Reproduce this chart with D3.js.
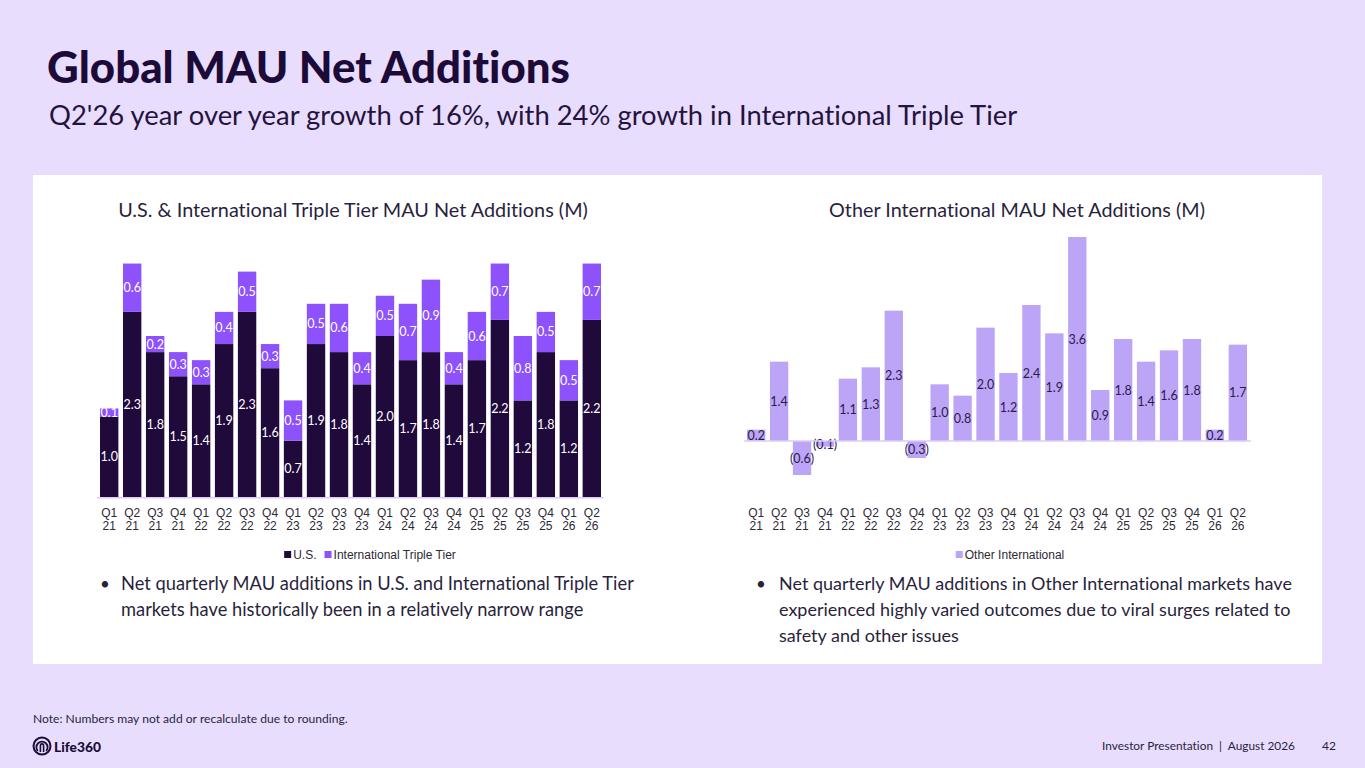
<!DOCTYPE html>
<html>
<head>
<meta charset="utf-8">
<script src="https://cdn.jsdelivr.net/npm/d3@7"></script>
<style>
  html, body { margin: 0; padding: 0; background: #e8ddfd; }
  svg { display: block; }
  text { font-family: Lato, "Noto Sans", sans-serif; font-variant-ligatures: none; font-feature-settings: "liga" 0, "clig" 0, "dlig" 0; letter-spacing: 0.01px; }
  .tick text, .legend text { font-family: "Liberation Sans", Arial, sans-serif; }
</style>
</head>
<body>
<svg id="slide" width="1365" height="768"></svg>
<script>
const quarters = ["Q1 21", "Q2 21", "Q3 21", "Q4 21", "Q1 22", "Q2 22", "Q3 22", "Q4 22", "Q1 23", "Q2 23", "Q3 23",
  "Q4 23", "Q1 24", "Q2 24", "Q3 24", "Q4 24", "Q1 25", "Q2 25", "Q3 25", "Q4 25", "Q1 26", "Q2 26"];
const usAdds = [1.0, 2.3, 1.8, 1.5, 1.4, 1.9, 2.3, 1.6, 0.7, 1.9, 1.8, 1.4, 2.0, 1.7, 1.8, 1.4, 1.7, 2.2, 1.2, 1.8, 1.2, 2.2];
const tripleTierAdds = [0.1, 0.6, 0.2, 0.3, 0.3, 0.4, 0.5, 0.3, 0.5, 0.5, 0.6, 0.4, 0.5, 0.7, 0.9, 0.4, 0.6, 0.7, 0.8, 0.5, 0.5, 0.7];
const otherIntlAdds = [0.2, 1.4, -0.6, -0.1, 1.1, 1.3, 2.3, -0.3, 1.0, 0.8, 2.0, 1.2, 2.4, 1.9, 3.6, 0.9, 1.8, 1.4, 1.6, 1.8, 0.2, 1.7];

const leftBullets = [
  "Net quarterly MAU additions in U.S. and International Triple Tier",
  "markets have historically been in a relatively narrow range"
];
const rightBullets = [
  "Net quarterly MAU additions in Other International markets have",
  "experienced highly varied outcomes due to viral surges related to",
  "safety and other issues"
];

const COLORS = {
  bg: "#e8ddfd",
  ink: "#1c0b38",
  us: "#200a3c",
  tripleTier: "#8d52fb",
  other: "#bca5f7",
  baseline: "#dccdf8",
  tick: "#2e2a36"
};

const svg = d3.select("#slide");
const fmt = d3.format(".1f");
const fmtSigned = (v) => v < 0 ? `(${fmt(-v)})` : fmt(v);

// shrink or grow a text element so it spans the target width
function fitText(sel, targetWidth) {
  const node = sel.node();
  const size = parseFloat(sel.attr("font-size"));
  const len = node.getComputedTextLength();
  if (len > 0) sel.attr("font-size", (size * targetWidth / len).toFixed(2));
  return parseFloat(sel.attr("font-size"));
}

svg.append("rect").attr("width", 1365).attr("height", 768).attr("fill", COLORS.bg);

fitText(svg.append("text").attr("x", 47).attr("y", 83).attr("font-size", 38).attr("font-weight", 900)
  .attr("fill", COLORS.ink).text("Global MAU Net Additions"), 523);
fitText(svg.append("text").attr("x", 49).attr("y", 125).attr("font-size", 24)
  .attr("fill", "#25133f").text("Q2'26 year over year growth of 16%, with 24% growth in International Triple Tier"), 969);

svg.append("rect").attr("x", 33).attr("y", 175).attr("width", 1289).attr("height", 489).attr("fill", "#ffffff");

fitText(svg.append("text").attr("x", 353).attr("y", 217).attr("text-anchor", "middle").attr("font-size", 17)
  .attr("fill", "#2a1f3d").text("U.S. & International Triple Tier MAU Net Additions (M)"), 470);
fitText(svg.append("text").attr("x", 1017).attr("y", 217).attr("text-anchor", "middle").attr("font-size", 17)
  .attr("fill", "#2a1f3d").text("Other International MAU Net Additions (M)"), 376);

function drawAxis(x, yPos) {
  const g = svg.append("g").attr("transform", `translate(0,${yPos})`)
    .call(d3.axisBottom(x).tickSize(0).tickPadding(0));
  g.select(".domain").remove();
  g.selectAll(".tick text").each(function (d) {
    const parts = d.split(" ");
    const t = d3.select(this).text(null).attr("y", 0).attr("dy", null)
      .attr("font-size", 12).attr("fill", COLORS.tick);
    t.append("tspan").attr("x", 0).attr("y", 16.5).text(parts[0]);
    t.append("tspan").attr("x", 0).attr("y", 30).text(parts[1]);
  });
}

function drawLegend(items, cx) {
  const g = svg.append("g").attr("class", "legend");
  let widths = items.map((it) => {
    const t = g.append("text").attr("font-size", 12).text(it.label);
    const w = t.node().getComputedTextLength();
    t.remove();
    return w + 9;
  });
  const gap = 8;
  const total = d3.sum(widths) + gap * (items.length - 1);
  let x0 = cx - total / 2;
  items.forEach((it, i) => {
    g.append("rect").attr("x", x0).attr("y", 551).attr("width", 7).attr("height", 7).attr("fill", it.color);
    g.append("text").attr("x", x0 + 9).attr("y", 559).attr("font-size", 12).attr("fill", COLORS.tick).text(it.label);
    x0 += widths[i] + gap;
  });
}

// ---- left chart: stacked U.S. + International Triple Tier
const xLeft = d3.scaleBand().domain(quarters).range([100, 601]).paddingInner(0.2).paddingOuter(0);
const yLeft = d3.scaleLinear().domain([0, 3]).range([497, 255.5]);

const stacked = quarters.map((q, i) => ({ q, us: usAdds[i], tt: tripleTierAdds[i] }));
const leftG = svg.append("g");
leftG.selectAll("rect.us").data(stacked).join("rect").attr("class", "us")
  .attr("x", (d) => xLeft(d.q)).attr("width", xLeft.bandwidth())
  .attr("y", (d) => yLeft(d.us)).attr("height", (d) => yLeft(0) - yLeft(d.us))
  .attr("fill", COLORS.us);
leftG.selectAll("rect.tt").data(stacked).join("rect").attr("class", "tt")
  .attr("x", (d) => xLeft(d.q)).attr("width", xLeft.bandwidth())
  .attr("y", (d) => yLeft(d.us + d.tt)).attr("height", (d) => yLeft(d.us) - yLeft(d.us + d.tt))
  .attr("fill", COLORS.tripleTier);
leftG.selectAll("text.us").data(stacked).join("text").attr("class", "us")
  .attr("x", (d) => xLeft(d.q) + xLeft.bandwidth() / 2).attr("y", (d) => (yLeft(0) + yLeft(d.us)) / 2)
  .attr("dy", "0.36em").attr("text-anchor", "middle").attr("font-size", 12.5).attr("fill", "#ffffff")
  .text((d) => fmt(d.us));
leftG.selectAll("text.tt").data(stacked).join("text").attr("class", "tt")
  .attr("x", (d) => xLeft(d.q) + xLeft.bandwidth() / 2).attr("y", (d) => (yLeft(d.us) + yLeft(d.us + d.tt)) / 2)
  .attr("dy", "0.36em").attr("text-anchor", "middle").attr("font-size", 12.5).attr("fill", "#ffffff")
  .text((d) => fmt(d.tt));
svg.append("line").attr("x1", 97).attr("x2", 604).attr("y1", yLeft(0) + 0.75).attr("y2", yLeft(0) + 0.75)
  .attr("stroke", COLORS.baseline).attr("stroke-width", 1.5);
drawAxis(xLeft, 500);
drawLegend([{ label: "U.S.", color: COLORS.us }, { label: "International Triple Tier", color: COLORS.tripleTier }], 370);

// ---- right chart: Other International
const xRight = d3.scaleBand().domain(quarters).range([747, 1247]).paddingInner(0.2).paddingOuter(0);
const yRight = d3.scaleLinear().domain([0, 3.6]).range([441, 237]);

const other = quarters.map((q, i) => ({ q, v: otherIntlAdds[i] }));
const rightG = svg.append("g");
rightG.selectAll("rect").data(other).join("rect")
  .attr("x", (d) => xRight(d.q)).attr("width", xRight.bandwidth())
  .attr("y", (d) => yRight(Math.max(0, d.v))).attr("height", (d) => Math.abs(yRight(d.v) - yRight(0)))
  .attr("fill", COLORS.other);
rightG.selectAll("text").data(other).join("text")
  .attr("x", (d) => xRight(d.q) + xRight.bandwidth() / 2)
  .attr("y", (d) => Math.max((yRight(0) + yRight(d.v)) / 2, d.v < 0 ? yRight(0) + 3 : -Infinity))
  .attr("dy", "0.36em").attr("text-anchor", "middle").attr("font-size", 12.5).attr("fill", "#2b1a4a")
  .text((d) => fmtSigned(d.v));
svg.append("line").attr("x1", 744).attr("x2", 1251).attr("y1", yRight(0)).attr("y2", yRight(0))
  .attr("stroke", COLORS.baseline).attr("stroke-width", 1.5);
drawAxis(xRight, 500);
drawLegend([{ label: "Other International", color: COLORS.other }], 1010);

// ---- bullets
function drawBullets(lines, bx, tx, target) {
  const g = svg.append("g");
  g.append("text").attr("x", bx).attr("y", 590).attr("font-size", 17).attr("fill", "#2a1f3d").text("•");
  const first = g.append("text").attr("x", tx).attr("y", 590).attr("font-size", 17).attr("fill", "#2a1f3d").text(lines[0]);
  const size = fitText(first, target);
  lines.slice(1).forEach((line, i) => {
    g.append("text").attr("x", tx).attr("y", 616 + i * 25.5).attr("font-size", size).attr("fill", "#2a1f3d").text(line);
  });
}
drawBullets(leftBullets, 100, 121, 513);
drawBullets(rightBullets, 756, 779, 513);

// ---- footer
fitText(svg.append("text").attr("x", 33).attr("y", 723).attr("font-size", 11).attr("fill", "#2a1f3d")
  .text("Note: Numbers may not add or recalculate due to rounding."), 315);

const logo = svg.append("g").attr("transform", "translate(42,746)").attr("fill", "none").attr("stroke", COLORS.ink);
logo.append("circle").attr("r", 8.5).attr("stroke-width", 2);
logo.append("path").attr("d", "M-4.2,5 A5.6,5.6 0 1 1 4.2,5").attr("stroke-width", 1.8);
logo.append("path").attr("d", "M-1.6,6 L-1.6,-0.5 A1.6,1.6 0 0 1 1.6,-0.5 L1.6,6").attr("stroke-width", 1.6);
fitText(svg.append("text").attr("x", 54).attr("y", 752).attr("font-size", 14).attr("font-weight", 900)
  .attr("fill", COLORS.ink).text("Life360"), 47);

const footer = svg.append("text").attr("x", 1295).attr("y", 750).attr("text-anchor", "end").attr("font-size", 12)
  .attr("fill", "#2a1f3d").text("Investor Presentation\u00a0\u00a0|\u00a0\u00a0August 2026");
fitText(footer, 193);
svg.append("text").attr("x", 1322).attr("y", 750).attr("font-size", 12).attr("fill", "#2a1f3d").text("42");
</script>
</body>
</html>
